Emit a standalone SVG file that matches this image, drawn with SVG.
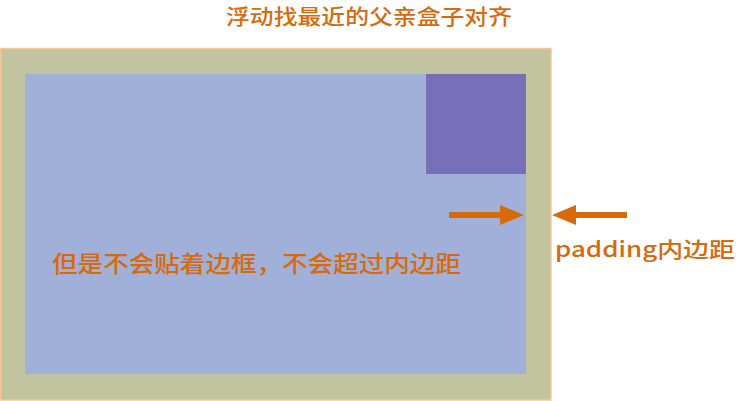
<svg xmlns="http://www.w3.org/2000/svg" width="736" height="401" viewBox="0 0 736 401">
<style>
.t{font-family:"Noto Sans CJK SC","Noto Sans",sans-serif;fill:#d96a0b;font-weight:500;}
.ar{fill:#d96a0b;}
</style>
<rect width="736" height="401" fill="#ffffff"/>
<g id="outer"><rect x="0.5" y="48.5" width="550.5" height="351.5" fill="#c2c39f" stroke="#f7c896" stroke-width="1.5"/></g>
<g id="inner"><rect x="25" y="74" width="501" height="300" fill="#a1b0d8"/></g>
<g id="float"><rect x="426" y="74" width="100" height="100" fill="#776fb8"/></g>
<g id="connectors">
<polygon class="ar" points="449,212 500,212 500,205 524,215 500,225 500,218 449,218"/>
<polygon class="ar" points="627,212 576,212 576,205 552,215 576,225 576,218 627,218"/>
</g>
<g id="labels">
<text class="t" x="226" y="24" font-size="21" textLength="286" lengthAdjust="spacingAndGlyphs">浮动找最近的父亲盒子对齐</text>
<text class="t" x="52" y="272" font-size="23" textLength="409" lengthAdjust="spacingAndGlyphs">但是不会贴着边框，不会超过内边距</text>
<text class="t" x="555" y="257" font-size="21" textLength="180" lengthAdjust="spacingAndGlyphs">padding内边距</text>
</g>
</svg>
